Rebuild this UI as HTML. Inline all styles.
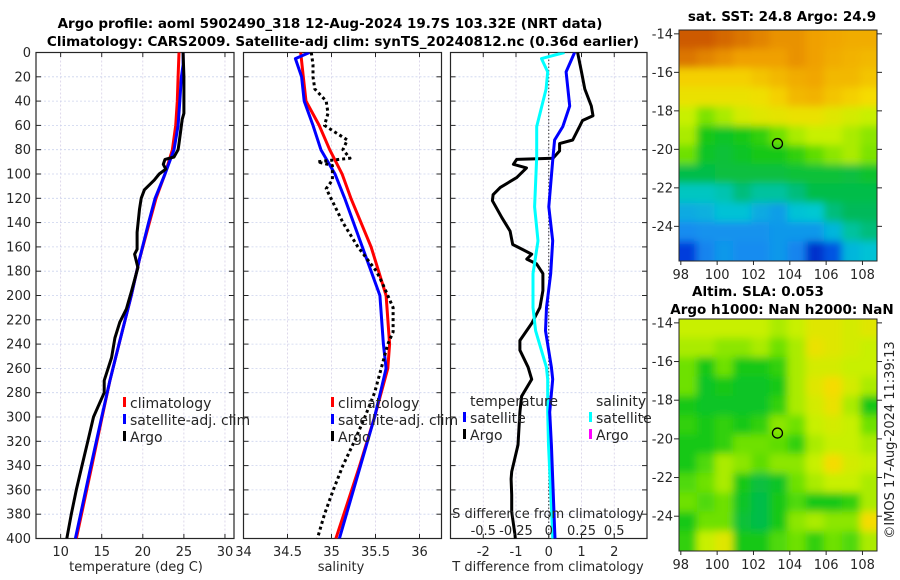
<!DOCTYPE html>
<html><head><meta charset="utf-8"><style>
body{margin:0;background:#fff;}
svg{display:block;font-family:"DejaVu Sans","Liberation Sans",sans-serif;}
.t{font-size:13px;fill:#262626;}
.b{font-weight:bold;font-size:13.5px;fill:#000;}
</style></head><body>
<svg id="c" width="900" height="580" viewBox="0 0 900 580">
<defs>
<clipPath id="cm1"><rect x="679" y="30" width="198" height="231"/></clipPath>
<clipPath id="cm2"><rect x="679" y="319" width="198" height="232"/></clipPath>
<clipPath id="cp1"><rect x="36" y="52.5" width="198" height="486"/></clipPath>
<clipPath id="cp2"><rect x="243.5" y="52.5" width="198" height="486"/></clipPath>
<clipPath id="cp3"><rect x="450.5" y="52.5" width="196.5" height="486"/></clipPath>
<filter id="bl" filterUnits="userSpaceOnUse" x="600" y="0" width="300" height="580"><feGaussianBlur stdDeviation="4"/></filter>
</defs>
<text class="b" x="330" y="28" text-anchor="middle">Argo profile: aoml 5902490_318 12-Aug-2024 19.7S 103.32E (NRT data)</text>
<text class="b" x="343" y="46" text-anchor="middle">Climatology: CARS2009. Satellite-adj clim: synTS_20240812.nc (0.36d earlier)</text>
<text class="b" x="782" y="21" text-anchor="middle">sat. SST: 24.8 Argo: 24.9</text>
<text class="b" x="758" y="296" text-anchor="middle">Altim. SLA: 0.053</text>
<text class="b" x="782" y="314" text-anchor="middle">Argo h1000: NaN h2000: NaN</text>
<text class="t" transform="translate(894,440) rotate(-90)" text-anchor="middle">©IMOS 17-Aug-2024 11:39:13</text>
<g id="g"></g>
</svg>
<script>
// ---- data ----
const depthTicks=[0,20,40,60,80,100,120,140,160,180,200,220,240,260,280,300,320,340,360,380,400];
const tempTicks=[10,15,20,25,30];
const salTicks=[34,34.5,35,35.5,36];
const tdTicks=[-2,-1,0,1,2];
const sdTicks=[-0.5,-0.25,0,0.25,0.5];
const sdTickLabels=["-0.5","-0.25","0","0.25","0.5"];
const tClimD=[0,20,40,60,80,100,120,140,170,200,240,270,300,340,400];
const tClimV=[24.4,24.3,24.2,24.0,23.6,22.7,21.6,20.8,19.6,18.6,17.1,16.0,15.05,13.8,11.9];
const tSatD=[0,10,20,40,60,80,100,120,140,170,200,240,270,300,340,400];
const tSatV=[24.9,24.9,24.7,24.5,24.3,23.8,22.7,21.5,20.7,19.6,18.6,17.1,16.0,15.0,13.7,11.8];
const tArgoD=[0,20,40,50,55,65,75,80,86,88,92,96,100,105,113,120,129,148,162,166,177,197,211,222,235,251,270,280,300,320,340,360,380,400];
const tArgoV=[24.9,25.0,25.0,25.0,24.8,24.6,24.4,24.3,23.8,22.7,22.5,22.8,22.0,21.4,20.2,19.8,19.6,19.3,19.3,19.0,19.4,18.6,18.0,17.2,16.6,16.2,15.3,15.3,14.0,13.3,12.6,11.9,11.3,10.75];
const sClimD=[0,20,40,60,80,100,120,160,200,240,260,300,340,400];
const sClimV=[34.65,34.68,34.71,34.86,34.98,35.12,35.22,35.45,35.62,35.66,35.64,35.49,35.32,35.05];
const sSatD=[0,5,20,40,60,80,100,120,160,200,240,260,300,400];
const sSatV=[34.75,34.59,34.66,34.69,34.79,34.88,35.04,35.15,35.35,35.55,35.59,35.62,35.49,35.09];
const sArgoD=[0,10,20,30,40,50,60,72,80,87,90,93,105,112,140,160,180,190,210,230,240,280,300,320,340,360,380,400];
const sArgoV=[34.77,34.79,34.79,34.81,34.94,34.96,34.92,35.18,35.13,35.21,34.84,35.01,35.01,34.94,35.13,35.3,35.51,35.58,35.7,35.7,35.64,35.49,35.38,35.26,35.13,35.02,34.92,34.84];
const dTSatD=[0,16,44,61,72,86,127,155,182,210,229,259,269,296,323,351,392,400];
const dTSatV=[0.79,0.53,0.64,0.43,0.18,0.13,0.0,0.12,0.06,-0.07,-0.1,0.08,0.12,0.03,0.08,0.12,0.18,0.19];
const dTArgoD=[0,16,30,44,52,56,61,72,75,81,87,88,92,95,103,111,117,122,136,147,158,161,166,170,174,182,196,210,223,237,245,259,269,283,296,323,345,351,364,378,397,400];
const dTArgoV=[0.88,1.0,1.1,1.3,1.35,1.03,0.94,0.73,0.33,0.33,0.13,-0.98,-1.08,-0.68,-0.98,-1.48,-1.7,-1.72,-1.43,-1.18,-1.1,-0.88,-0.52,-0.67,-0.37,-0.18,-0.18,-0.27,-0.52,-0.88,-0.88,-0.63,-0.52,-0.83,-0.88,-0.94,-1.13,-1.15,-1.13,-1.13,-1.03,-1.02];
const dSSatD=[0,5,16,30,61,86,127,155,182,210,229,259,269,296,323,351,392,400];
const dSSatV=[0.12,-0.055,-0.008,-0.02,-0.092,-0.092,-0.108,-0.082,-0.12,-0.12,-0.1,-0.018,-0.008,-0.008,-0.002,0.01,0.028,0.03];
const sstGrid=[
[.9,.9,.88,.86,.84,.82,.82,.8,.79,.78,.78],
[.86,.84,.82,.8,.8,.8,.82,.8,.78,.77,.76],
[.72,.72,.72,.72,.74,.76,.78,.79,.76,.76,.74],
[.68,.68,.68,.68,.69,.72,.76,.77,.74,.72,.7],
[.62,.57,.6,.64,.66,.67,.68,.68,.66,.64,.62],
[.6,.5,.48,.5,.52,.56,.6,.62,.62,.6,.58],
[.56,.48,.46,.48,.5,.5,.52,.55,.58,.6,.57],
[.44,.44,.45,.45,.45,.45,.46,.46,.46,.45,.47],
[.36,.36,.37,.4,.38,.38,.4,.44,.44,.44,.44],
[.3,.31,.34,.34,.3,.28,.34,.35,.4,.42,.42],
[.25,.26,.26,.26,.26,.27,.27,.27,.32,.38,.4],
[.15,.24,.27,.25,.25,.27,.24,.12,.18,.32,.34]];
const slaGrid=[
[.62,.62,.62,.62,.62,.6,.62,.66,.66,.64,.66],
[.6,.6,.58,.58,.6,.56,.6,.68,.66,.64,.62],
[.56,.5,.56,.5,.5,.52,.6,.64,.64,.62,.62],
[.56,.48,.5,.48,.48,.5,.6,.66,.7,.64,.6],
[.5,.48,.48,.48,.48,.52,.6,.64,.68,.6,.5],
[.52,.5,.52,.5,.52,.58,.56,.62,.64,.62,.56],
[.5,.5,.52,.56,.56,.55,.52,.6,.62,.62,.6],
[.5,.54,.6,.58,.55,.58,.58,.62,.7,.64,.62],
[.54,.56,.6,.5,.45,.48,.56,.6,.62,.62,.6],
[.56,.54,.56,.48,.44,.5,.54,.5,.5,.52,.6],
[.5,.56,.56,.46,.44,.5,.58,.6,.58,.58,.7],
[.52,.62,.66,.5,.5,.54,.56,.52,.56,.54,.6]];
const latTicks=[-14,-16,-18,-20,-22,-24];
const lonTicks=[98,100,102,104,106,108];
const argoLon=103.32, argoLat=-19.7;

const g=document.getElementById('g');
const NS='http://www.w3.org/2000/svg';
function mk(tag,at,parent){const e=document.createElementNS(NS,tag);for(const k in at)e.setAttribute(k,at[k]);(parent||g).appendChild(e);return e;}
const lin=(d0,d1,r0,r1)=>v=>r0+(v-d0)*(r1-r0)/(d1-d0);
const Y=lin(0,400,52.5,538.5);
const P=[{x0:36,x1:234,X:lin(7,31.1,36,234),ticks:tempTicks,name:'temperature-panel'},
         {x0:243.5,x1:441.5,X:lin(34,36.25,243.5,441.5),ticks:salTicks,name:'salinity-panel'},
         {x0:450.5,x1:647,X:lin(-3,3,450.5,647),ticks:tdTicks,name:'difference-panel'}];
const SX=lin(-0.75,0.75,450.5,647);
P.forEach((p,i)=>{
  const grp=mk('g',{});
  
  
  p.ticks.forEach(v=>{const x=p.X(v);
    mk('line',{x1:x,x2:x,y1:52.5,y2:538.5,stroke:'#d6cfe6','stroke-width':0.8,'stroke-dasharray':'2,2'},grp);
    mk('line',{x1:x,x2:x,y1:538.5,y2:534,stroke:'#262626'},grp);mk('line',{x1:x,x2:x,y1:52.5,y2:57,stroke:'#262626'},grp);
    const t=mk('text',{x:x,y:556,'text-anchor':'middle',class:'t'},grp);t.textContent=String(v);
    
  });
  depthTicks.forEach(d=>{const y=Y(d);
    if(d>0&&d<400)mk('line',{x1:p.x0,x2:p.x1,y1:y,y2:y,stroke:'#ccd3ee','stroke-width':0.8,'stroke-dasharray':'2,2'},grp);
    mk('line',{x1:p.x0,x2:p.x0+5,y1:y,y2:y,stroke:'#262626'},grp);mk('line',{x1:p.x1-5,x2:p.x1,y1:y,y2:y,stroke:'#262626'},grp);
    if(i===0){const t=mk('text',{x:31,y:y+4.5,'text-anchor':'end',class:'t'},grp);t.textContent=String(d);
      }
  });
  mk('rect',{x:p.x0,y:52.5,width:p.x1-p.x0,height:486,fill:'none',stroke:'#262626','stroke-width':1.2},grp);
});
function line(Ds,Vs,X,color,w,clip,name,dash){
  const pts=Ds.map((d,i)=>X(Vs[i]).toFixed(1)+','+Y(d).toFixed(1)).join(' ');
  const e=mk('polyline',{points:pts,fill:'none',stroke:color,'stroke-width':w,'stroke-linejoin':'round','clip-path':'url(#'+clip+')'});
  if(dash)e.setAttribute('stroke-dasharray',dash);
  
  
}
line(tClimD,tClimV,P[0].X,'#ff0000',3,'cp1','temp-climatology-line');
line(tSatD,tSatV,P[0].X,'#0000ff',3,'cp1','temp-satellite-line');
line(tArgoD,tArgoV,P[0].X,'#000',3,'cp1','temp-argo-line');
line(sClimD,sClimV,P[1].X,'#ff0000',3,'cp2','sal-climatology-line');
line(sSatD,sSatV,P[1].X,'#0000ff',3,'cp2','sal-satellite-line');
line(sArgoD,sArgoV,P[1].X,'#000',3,'cp2','sal-argo-line','3,3');
const z=mk('line',{x1:P[2].X(0),x2:P[2].X(0),y1:52.5,y2:538.5,stroke:'#333','stroke-width':1,'stroke-dasharray':'1.5,2'});

line(dTArgoD,dTArgoV,P[2].X,'#000',3,'cp3','tdiff-argo-line');
line(dSSatD,dSSatV,SX,'#00ffff',3,'cp3','sdiff-satellite-line');
line(dTSatD,dTSatV,P[2].X,'#0000ff',3,'cp3','tdiff-satellite-line');
sdTicks.forEach((v,i)=>{const t=mk('text',{x:SX(v),y:535,'text-anchor':'middle',class:'t'});t.textContent=sdTickLabels[i];
  });
function txt(x,y,s,name,anchor){const t=mk('text',{x:x,y:y,'text-anchor':anchor||'start',class:'t'});t.textContent=s;
  return t;}
txt(548,518,'S difference from climatology','sdiff-axis-title','middle');
txt(136,571,'temperature (deg C)','temp-axis-title','middle');
txt(341,571,'salinity','sal-axis-title','middle');
txt(548,571,'T difference from climatology','tdiff-axis-title','middle');
function leg(x,y,c,s,name){mk('rect',{x:x-7,y:y-11,width:3,height:10,fill:c});
  const t=txt(x,y,s,name);t.style.fontSize='14px';}
[[130,'#ff0000','climatology'],[130,'#0000ff','satellite-adj. clim'],[130,'#000','Argo']].forEach((l,i)=>leg(l[0],408+i*17,l[1],l[2],'temp-legend-entry'));
[[338,'#ff0000','climatology'],[338,'#0000ff','satellite-adj. clim'],[338,'#000','Argo']].forEach((l,i)=>leg(l[0],408+i*17,l[1],l[2],'sal-legend-entry'));
txt(470,406,'temperature','legend-temperature-header').style.fontSize='14px';
txt(596,406,'salinity','legend-salinity-header').style.fontSize='14px';
leg(470,423,'#0000ff','satellite','legend-tdiff-satellite');
leg(470,440,'#000','Argo','legend-tdiff-argo');
leg(596,423,'#00ffff','satellite','legend-sdiff-satellite');
leg(596,440,'#ff00ff','Argo','legend-sdiff-argo');
const stops=[[0,[0,0,140]],[.15,[0,60,220]],[.25,[20,140,240]],[.35,[0,200,210]],[.42,[0,185,90]],[.5,[20,200,20]],[.56,[110,225,0]],[.62,[200,240,0]],[.7,[245,220,0]],[.8,[240,160,0]],[.9,[205,90,0]],[1,[160,40,0]]];
function cmap(v){for(let i=1;i<stops.length;i++){if(v<=stops[i][0]){const a=stops[i-1],b=stops[i],f=(v-a[0])/(b[0]-a[0]);
  return 'rgb('+a[1].map((c,k)=>Math.round(c+(b[1][k]-c)*f)).join(',')+')';}}return 'rgb(160,40,0)';}
function drawMap(grid,top,bot,clip,name){
  const MX=lin(97.9,108.8,679,877), MY=lin(-13.8,-25.8,top,bot);
  const grp=mk('g',{'clip-path':'url(#'+clip+')'});
  
  
  const inner=mk('g',{filter:'url(#bl)'},grp);
  grid.forEach((row,r)=>row.forEach((v,c)=>{
    const x0=MX(97.9+c)-0.5,x1=MX(98.9+c)+0.5,y0=MY(-13.8-r)-0.5,y1=MY(-14.8-r)+0.5;
    const cell=mk('rect',{x:x0-(c===0?12:0),y:y0-(r===0?12:0),width:x1-x0+(c===0||c===10?12:0),height:y1-y0+(r===0||r===11?12:0),fill:cmap(v)},inner);
    
  }));
  const ci=mk('circle',{cx:MX(argoLon),cy:MY(argoLat),r:5,fill:'none',stroke:'#000','stroke-width':1.3},grp);
  
  mk('rect',{x:679,y:top,width:198,height:bot-top,fill:'none',stroke:'#262626','stroke-width':1});
  latTicks.forEach(l=>{const y=MY(l);
    mk('line',{x1:679,x2:674,y1:y,y2:y,stroke:'#262626'});mk('line',{x1:877,x2:882,y1:y,y2:y,stroke:'#262626'});
    txt(673,y+4.5,String(l),'lat-tick-label','end');});
  lonTicks.forEach(l=>{const x=MX(l);
    mk('line',{x1:x,x2:x,y1:bot,y2:bot+4,stroke:'#262626'});
    txt(x,bot+18,String(l),'lon-tick-label','middle');});
}
drawMap(sstGrid,30,261,'cm1','sst-map');
drawMap(slaGrid,319,551,'cm2','sla-map');
</script>
</body></html>
